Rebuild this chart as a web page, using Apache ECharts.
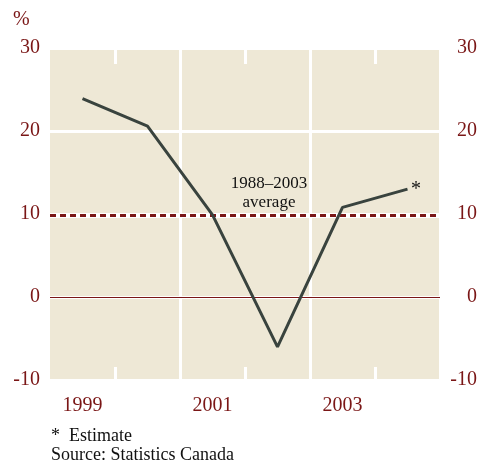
<!DOCTYPE html>
<html>
<head>
<meta charset="utf-8">
<script src="https://cdn.jsdelivr.net/npm/echarts@6/dist/echarts.min.js"></script>
<style>
  html, body { margin: 0; padding: 0; background: #fff; }
  #chart { width: 478px; height: 462px; }
</style>
</head>
<body>
<div id="chart"></div>
<script>
const years = ['1999', '2000', '2001', '2002', '2003', '2004'];
const growth = [23.9, 20.6, 9.9, -6.0, 10.8, 13.0];
const average = 9.8;
const yTicks = { min: -10, max: 30, interval: 10 };

const red = '#7a1616';
const serif = 'Liberation Serif';

const myChart = echarts.init(document.getElementById('chart'));

// short white ticks only at the odd category boundaries
const oddTick = (idx) => idx % 2 === 1;

const option = {
  backgroundColor: '#ffffff',
  animation: false,
  grid: {
    left: 50, right: 38, top: 48, bottom: 82,
    outerBoundsMode: 'none', containLabel: false,
    show: true, backgroundColor: '#eee8d6', borderWidth: 0,
  },
  xAxis: [
    {
      type: 'category',
      data: years,
      position: 'bottom',
      boundaryGap: true,
      axisLine: { show: false, onZero: false },
      axisTick: {
        show: true, inside: true, length: 13, interval: oddTick,
        lineStyle: { color: '#ffffff', width: 3 },
      },
      axisLabel: {
        interval: 1, margin: 16,
        color: red, fontFamily: serif, fontSize: 20,
      },
      splitLine: {
        show: true,
        interval: (idx) => idx === 2 || idx === 4,
        lineStyle: { color: '#ffffff', width: 3 },
      },
    },
    {
      type: 'category',
      data: years,
      position: 'top',
      boundaryGap: true,
      axisLine: { show: false, onZero: false },
      axisTick: {
        show: true, inside: true, length: 16, interval: oddTick,
        lineStyle: { color: '#ffffff', width: 3 },
      },
      axisLabel: { show: false },
      splitLine: { show: false },
    },
  ],
  yAxis: [
    {
      type: 'value', position: 'left',
      min: yTicks.min, max: yTicks.max, interval: yTicks.interval,
      axisLine: { show: false }, axisTick: { show: false },
      axisLabel: { color: red, fontFamily: serif, fontSize: 20, margin: 10 },
      splitLine: { show: true, lineStyle: { color: '#ffffff', width: 3 } },
    },
    {
      type: 'value', position: 'right',
      min: yTicks.min, max: yTicks.max, interval: yTicks.interval,
      axisLine: { show: false }, axisTick: { show: false },
      axisLabel: { color: red, fontFamily: serif, fontSize: 20, margin: 37, align: 'right' },
      splitLine: { show: false },
    },
  ],
  series: [
    {
      type: 'line',
      data: growth,
      symbol: 'none',
      lineStyle: { color: '#39433e', width: 3 },
      z: 5,
      markLine: {
        silent: true,
        symbol: 'none',
        label: { show: false },
        data: [
          { yAxis: 0, lineStyle: { color: red, width: 1, type: 'solid' } },
          { yAxis: average, lineStyle: { color: '#ffffff', width: 4, type: 'solid' } },
          { yAxis: average, lineStyle: { color: red, width: 3, type: [6, 4] } },
        ],
      },
    },
  ],
  graphic: [
    {
      type: 'text', left: 13, top: 10,
      style: { text: '%', fill: red, font: `20px "${serif}"` },
    },
    {
      type: 'text', x: 269, y: 184,
      style: {
        text: '1988\u20132003', fill: '#111', font: `17px "${serif}"`,
        textAlign: 'center', textVerticalAlign: 'middle',
      },
    },
    {
      type: 'text', x: 269, y: 203,
      style: {
        text: 'average', fill: '#111', font: `17px "${serif}"`,
        textAlign: 'center', textVerticalAlign: 'middle',
      },
    },
    {
      type: 'text', x: 416, y: 190,
      style: {
        text: '*', fill: '#111', font: `20px "${serif}"`,
        textAlign: 'center', textVerticalAlign: 'middle',
      },
    },
    {
      type: 'text', x: 51, y: 436,
      style: { text: '*  Estimate', fill: '#111', font: `18px "${serif}"`, textVerticalAlign: 'middle' },
    },
    {
      type: 'text', x: 51, y: 455,
      style: { text: 'Source: Statistics Canada', fill: '#111', font: `18px "${serif}"`, textVerticalAlign: 'middle' },
    },
  ],
};

myChart.setOption(option);
</script>
</body>
</html>
